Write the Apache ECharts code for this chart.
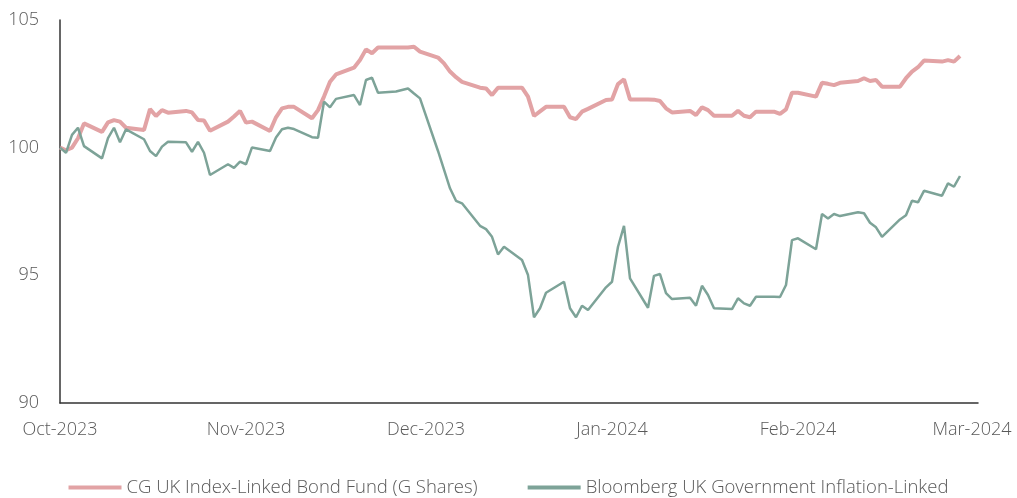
<!DOCTYPE html>
<html>
<head>
<meta charset="utf-8">
<script src="https://cdn.jsdelivr.net/npm/echarts@6/dist/echarts.min.js"></script>
<style>
  html, body { margin: 0; padding: 0; background: #fff; }
  #main { width: 1017px; height: 498px; }
</style>
</head>
<body>
<div id="main"></div>
<script>
// weekday dates, Oct 2023 - Feb 2024
var dates = [
  '2023-10-02','2023-10-03','2023-10-04','2023-10-05','2023-10-06',
  '2023-10-09','2023-10-10','2023-10-11','2023-10-12','2023-10-13',
  '2023-10-16','2023-10-17','2023-10-18','2023-10-19','2023-10-20',
  '2023-10-23','2023-10-24','2023-10-25','2023-10-26','2023-10-27',
  '2023-10-30','2023-10-31',
  '2023-11-01','2023-11-02','2023-11-03',
  '2023-11-06','2023-11-07','2023-11-08','2023-11-09','2023-11-10',
  '2023-11-13','2023-11-14','2023-11-15','2023-11-16','2023-11-17',
  '2023-11-20','2023-11-21','2023-11-22','2023-11-23','2023-11-24',
  '2023-11-27','2023-11-28','2023-11-29','2023-11-30',
  '2023-12-01',
  '2023-12-04','2023-12-05','2023-12-06','2023-12-07','2023-12-08',
  '2023-12-11','2023-12-12','2023-12-13','2023-12-14','2023-12-15',
  '2023-12-18','2023-12-19','2023-12-20','2023-12-21','2023-12-22',
  '2023-12-25','2023-12-26','2023-12-27','2023-12-28','2023-12-29',
  '2024-01-01','2024-01-02','2024-01-03','2024-01-04','2024-01-05',
  '2024-01-08','2024-01-09','2024-01-10','2024-01-11','2024-01-12',
  '2024-01-15','2024-01-16','2024-01-17','2024-01-18','2024-01-19',
  '2024-01-22','2024-01-23','2024-01-24','2024-01-25','2024-01-26',
  '2024-01-29','2024-01-30','2024-01-31',
  '2024-02-01','2024-02-02',
  '2024-02-05','2024-02-06','2024-02-07','2024-02-08','2024-02-09',
  '2024-02-12','2024-02-13','2024-02-14','2024-02-15','2024-02-16',
  '2024-02-19','2024-02-20','2024-02-21','2024-02-22','2024-02-23',
  '2024-02-26','2024-02-27','2024-02-28','2024-02-29'
];

var fund = [
  100.0, 99.9, 100.0, 100.37, 100.95,
  100.62, 100.99, 101.08, 101.02, 100.78,
  100.69, 101.51, 101.24, 101.47, 101.37,
  101.44, 101.38, 101.08, 101.06, 100.66,
  101.02, 101.22,
  101.44, 100.98, 101.02,
  100.65, 101.19, 101.54, 101.60, 101.60,
  101.15, 101.47, 102.0, 102.58, 102.87,
  103.13, 103.43, 103.85, 103.70, 103.92,
  103.92, 103.92, 103.92, 103.95,
  103.76,
  103.53, 103.30, 102.98, 102.76, 102.58,
  102.35, 102.32, 102.06, 102.35, 102.35,
  102.35, 102.0, 101.24, 101.42, 101.6,
  101.6, 101.19, 101.12, 101.41, 101.52,
  101.87, 101.89, 102.49, 102.68, 101.89,
  101.89, 101.88, 101.83, 101.54, 101.38,
  101.44, 101.28, 101.58, 101.47, 101.25,
  101.25, 101.44, 101.25, 101.19, 101.41,
  101.41, 101.32, 101.50,
  102.15, 102.15,
  102.0, 102.54, 102.50, 102.45, 102.54,
  102.61, 102.72, 102.61, 102.65, 102.39,
  102.39, 102.72, 102.98, 103.15, 103.41,
  103.37, 103.43, 103.37, 103.59
];

var bench = [
  100.0, 99.8, 100.5, 100.78, 100.06,
  99.58, 100.37, 100.78, 100.21, 100.72,
  100.33, 99.87, 99.67, 100.04, 100.23,
  100.21, 99.84, 100.23, 99.80, 98.93,
  99.35, 99.21,
  99.45, 99.35, 100.01,
  99.87, 100.40, 100.72, 100.78, 100.73,
  100.41, 100.39, 101.80, 101.58, 101.91,
  102.06, 101.67, 102.65, 102.74, 102.15,
  102.2, 102.26, 102.32, 102.12,
  101.93,
  99.87, 99.14, 98.41, 97.92, 97.82,
  96.94, 96.81, 96.51, 95.82, 96.12,
  95.60, 95.01, 93.36, 93.71, 94.32,
  94.75, 93.71, 93.36, 93.81, 93.64,
  94.53, 94.75, 96.12, 96.94, 94.88,
  93.73, 94.98, 95.05, 94.30, 94.07,
  94.12, 93.81, 94.59, 94.23, 93.71,
  93.68, 94.10, 93.90, 93.81, 94.16,
  94.16, 94.15, 94.62,
  96.38, 96.45,
  96.02, 97.40, 97.23, 97.40, 97.32,
  97.47, 97.43, 97.06, 96.88, 96.51,
  97.19, 97.35, 97.92, 97.86, 98.31,
  98.12, 98.60, 98.47, 98.89
];

var tickDates = ['2023-10-02','2023-11-02','2023-12-02','2024-01-02','2024-02-02','2024-03-02'];
var tickLabels = ['Oct-2023','Nov-2023','Dec-2023','Jan-2024','Feb-2024','Mar-2024'];

var names = ['CG UK Index-Linked Bond Fund (G Shares)', 'Bloomberg UK Government Inflation-Linked'];

function ts(s) {
  var p = s.split('-');
  return Date.UTC(+p[0], +p[1] - 1, +p[2]);
}

var tickValues = tickDates.map(ts);

function pairs(vals) {
  return dates.map(function (d, i) { return [ts(d), vals[i]]; });
}

var font = "'Open Sans', sans-serif";
var txt = '#595959';

var myChart = echarts.init(document.getElementById('main'));
var option = {
  animation: false,
  backgroundColor: '#fff',
  grid: { left: 60, right: 39, top: 20, bottom: 95 },
  legend: {
    data: names,
    top: 473,
    left: 'center',
    icon: 'rect',
    itemWidth: 53,
    itemHeight: 4,
    itemGap: 50,
    textStyle: { fontFamily: font, fontSize: 18.5, fontWeight: 300, color: txt }
  },
  xAxis: {
    type: 'value',
    min: ts('2023-10-02'),
    max: ts('2024-03-03'),
    axisLine: { lineStyle: { color: '#333', width: 1.5 } },
    axisTick: { show: false },
    splitLine: { show: false },
    axisLabel: {
      customValues: tickValues,
      margin: 18,
      fontFamily: font,
      fontSize: 18,
      fontWeight: 300,
      color: txt,
      formatter: function (v) {
        var i = tickValues.indexOf(v);
        return i >= 0 ? tickLabels[i] : '';
      }
    }
  },
  yAxis: {
    type: 'value',
    min: 90,
    max: 105,
    interval: 5,
    axisLine: { show: true, lineStyle: { color: '#333', width: 1.5 } },
    axisTick: { show: false },
    splitLine: { show: false },
    axisLabel: { margin: 21, fontFamily: font, fontSize: 18, fontWeight: 300, color: txt }
  },
  series: [
    {
      name: names[0],
      type: 'line',
      data: pairs(fund),
      showSymbol: false,
      symbol: 'none',
      itemStyle: { color: '#e2a3a5' },
      lineStyle: { color: '#e2a3a5', width: 4 }
    },
    {
      name: names[1],
      type: 'line',
      data: pairs(bench),
      showSymbol: false,
      symbol: 'none',
      itemStyle: { color: '#7da398' },
      lineStyle: { color: '#7da398', width: 2.5 }
    }
  ]
};
myChart.setOption(option);
</script>
</body>
</html>
